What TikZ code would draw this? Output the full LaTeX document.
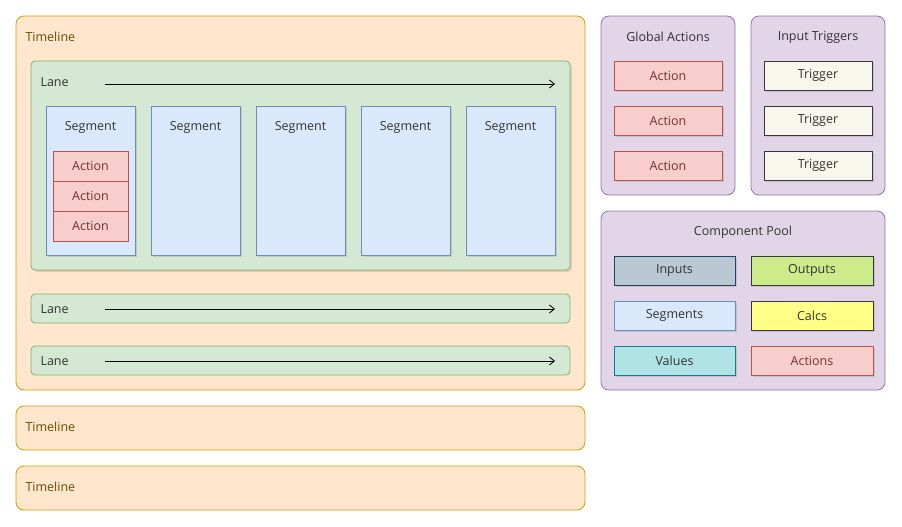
\documentclass[tikz,border=0pt]{standalone}
\usepackage{fontspec}
\setmainfont{Open Sans}
\usetikzlibrary{shadows,arrows.meta}
\definecolor{tlF}{HTML}{FFE6CC}\definecolor{tlD}{HTML}{D79B00}
\definecolor{lnF}{HTML}{D5E8D4}\definecolor{lnD}{HTML}{82B366}
\definecolor{sgF}{HTML}{DAE8FC}\definecolor{sgD}{HTML}{6C8EBF}
\definecolor{acF}{HTML}{F8CECC}\definecolor{acD}{HTML}{B85450}
\definecolor{puF}{HTML}{E1D5E7}\definecolor{puD}{HTML}{9673A6}
\definecolor{trF}{HTML}{F9F7ED}\definecolor{dk}{HTML}{36393D}
\definecolor{inF}{HTML}{BAC8D3}\definecolor{inD}{HTML}{23445D}
\definecolor{ouF}{HTML}{CDEB8B}\definecolor{caF}{HTML}{FFFF88}
\definecolor{vaF}{HTML}{B0E3E6}\definecolor{vaD}{HTML}{0E8088}
\definecolor{tlT}{HTML}{6B4A00}
\tikzset{
 box/.style={draw, line width=0.8pt},
 tl/.style={box, fill=tlF, draw=tlD, rounded corners=8pt},
 lane/.style={box, fill=lnF, draw=lnD, rounded corners=4pt},
 seg/.style={box, fill=sgF, draw=sgD, drop shadow={opacity=0.25,shadow xshift=2pt,shadow yshift=-2pt}},
 act/.style={box, fill=acF, draw=acD},
 pur/.style={box, fill=puF, draw=puD, rounded corners=8pt},
 lbl/.style={font=\fontsize{12.5}{14}\selectfont, text=black!80},
 arr/.style={-{Straight Barb[length=5pt,width=8pt]}, line width=0.8pt},
}
\begin{document}
\begin{tikzpicture}[x=1pt,y=-1pt]
\useasboundingbox (0,0) rectangle (902,527);
% timelines
\draw[tl] (16,16) rectangle (585,390);
\node[lbl,text=tlT,anchor=west] (t1) at (22,37) {Timeline};
\draw[tl] (16,406) rectangle (585,450);
\node[lbl,text=tlT,anchor=west] (t2) at (22,427) {Timeline};
\draw[tl] (16,466) rectangle (585,510);
\node[lbl,text=tlT,anchor=west] (t3) at (22,487) {Timeline};
% lanes
\draw[lane, drop shadow={opacity=0.25,shadow xshift=2pt,shadow yshift=-2pt}] (31,61) rectangle (570,270);
\node[lbl,anchor=west] (l1) at (37,82) {Lane};
\coordinate (a1s) at (105,84); \coordinate (a1e) at (555,84);
\draw[arr] (a1s) -- (a1e);
\draw[lane] (31,294) rectangle (570,323);
\node[lbl,anchor=west] (l2) at (37,309) {Lane};
\coordinate (a2s) at (105,309); \coordinate (a2e) at (555,309);
\draw[arr] (a2s) -- (a2e);
\draw[lane] (31,346) rectangle (570,375);
\node[lbl,anchor=west] (l3) at (37,361) {Lane};
\coordinate (a3s) at (105,361); \coordinate (a3e) at (555,361);
\draw[arr] (a3s) -- (a3e);
% segments
\foreach \x [count=\i] in {46,151,256,361,466}{
 \draw[seg] (\x,106) rectangle ({\x+89},255);
 \node[lbl] (s\i) at ({\x+44.5},127) {Segment};
}
\foreach \y [count=\i] in {151,181,211}{
 \draw[act] (53,\y) rectangle (128,{\y+30});
 \node[lbl,text=acD!60!black] (sa\i) at (90.5,{\y+15}) {Action};
}
% global actions
\draw[pur] (601,16) rectangle (735,195);
\node[lbl] (ga) at (668,37) {Global Actions};
\draw[pur] (751,16) rectangle (885,195);
\node[lbl] (it) at (818,37) {Input Triggers};
\foreach \y [count=\i] in {61,106,151}{
 \draw[act, drop shadow={opacity=0.25,shadow xshift=2pt,shadow yshift=-2pt}] (614,\y) rectangle (722,{\y+29});
 \node[lbl,text=acD!60!black] (g\i) at (668,{\y+14.5}) {Action};
 \draw[box,fill=trF,draw=dk, drop shadow={opacity=0.25,shadow xshift=2pt,shadow yshift=-2pt}] (764,\y) rectangle (872,{\y+29});
 \node[lbl] (tr\i) at (818,{\y+14.5}) {Trigger};
}
% component pool
\draw[pur] (601,211) rectangle (885,390);
\node[lbl] (cp) at (743,232) {Component Pool};
\tikzset{pb/.style={box, drop shadow={opacity=0.25,shadow xshift=2pt,shadow yshift=-2pt}}}
\draw[pb,fill=inF,draw=inD] (614,256) rectangle (735,285); \node[lbl] (p1) at (674.5,270.5) {Inputs};
\draw[pb,fill=ouF,draw=dk] (751,256) rectangle (873,285); \node[lbl] (p2) at (812,270.5) {Outputs};
\draw[pb,fill=sgF,draw=sgD] (614,301) rectangle (735,330); \node[lbl] (p3) at (674.5,315.5) {Segments};
\draw[pb,fill=caF,draw=dk] (751,301) rectangle (873,330); \node[lbl] (p4) at (812,315.5) {Calcs};
\draw[pb,fill=vaF,draw=vaD] (614,346) rectangle (735,375); \node[lbl] (p5) at (674.5,360.5) {Values};
\draw[pb,fill=acF,draw=acD] (751,346) rectangle (873,375); \node[lbl,text=acD!60!black] (p6) at (812,360.5) {Actions};
\end{tikzpicture}
\end{document}
